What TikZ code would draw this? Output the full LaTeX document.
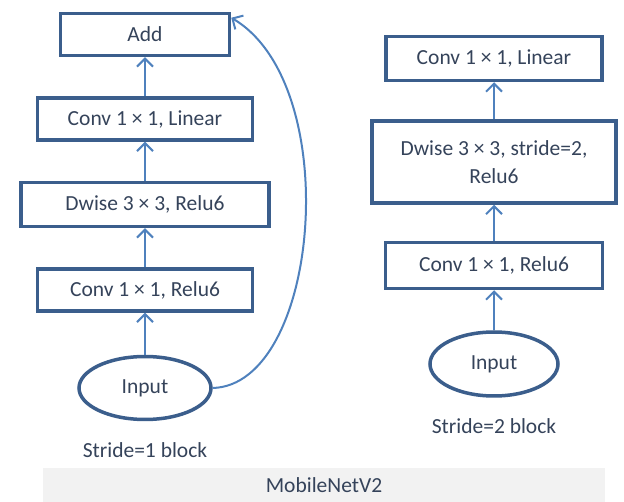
\documentclass[tikz,border=0pt]{standalone}
\usepackage{fontspec}
\setmainfont{Carlito}
\usepackage{tikz}
\usetikzlibrary{arrows.meta,positioning,shapes.geometric}
\definecolor{boxblue}{HTML}{3B5E8C}
\definecolor{linkblue}{HTML}{4F81BD}
\definecolor{labelgray}{HTML}{35435A}
\definecolor{bandgray}{HTML}{F2F2F2}
\tikzset{
  box/.style={draw=boxblue, line width=3.5pt, align=center, inner sep=3pt, minimum height=42pt, text=labelgray, font=\fontsize{21.5}{28}\selectfont},
  inbox/.style={ellipse, draw=boxblue, line width=3.5pt, inner sep=0pt, text=labelgray, font=\fontsize{21.5}{26}\selectfont},
  arrow/.style={-{Straight Barb[length=8pt,width=16pt,line width=2pt]}, draw=linkblue, line width=2pt},
  caption/.style={text=labelgray, font=\fontsize{21.5}{26}\selectfont}
}
\begin{document}
\begin{tikzpicture}[x=1pt, y=-1pt, node distance=39pt]
\useasboundingbox (0,0) rectangle (624,502);
% stride 1 block
\node[inbox, minimum width=132pt, minimum height=63pt] (input) at (145,388) {Input};
\node[box, minimum width=215pt, above=42pt of input] (convrelu) {Conv 1 × 1, Relu6};
\node[box, minimum width=248pt, minimum height=44pt, above=of convrelu] (dwise) {Dwise 3 × 3, Relu6};
\node[box, minimum width=215pt, above=of dwise] (convlin) {Conv 1 × 1, Linear};
\node[box, minimum width=169pt, above=of convlin] (add) {Add};
\node[caption] (caption1) at (145,450) {Stride=1 block};
\draw[arrow] (input) -- (convrelu);
\draw[arrow] (convrelu) -- (dwise);
\draw[arrow] (dwise) -- (convlin);
\draw[arrow] (convlin) -- (add);
\draw[arrow] (input.east) .. controls (320,385) and (345,85) .. ([yshift=-6pt]add.north east);
% stride 2 block
\node[inbox, minimum width=128pt, minimum height=64pt] (sinput) at (494,364) {Input};
\node[box, minimum width=217pt, minimum height=46pt, above=40pt of sinput] (sconvrelu) {Conv 1 × 1, Relu6};
\node[box, minimum width=244pt, minimum height=82pt, above=36pt of sconvrelu] (sdwise) {Dwise 3 × 3, stride=2,\\Relu6};
\node[box, minimum width=216pt, minimum height=44pt, above=37pt of sdwise] (sconvlin) {Conv 1 × 1, Linear};
\node[caption] (caption2) at (494,426) {Stride=2 block};
\draw[arrow] (sinput) -- (sconvrelu);
\draw[arrow] (sconvrelu) -- (sdwise);
\draw[arrow] (sdwise) -- (sconvlin);
% title band
\node[fill=bandgray, minimum width=562pt, minimum height=34pt, inner sep=0pt, caption] (title) at (324,485) {MobileNetV2};
\end{tikzpicture}
\end{document}
